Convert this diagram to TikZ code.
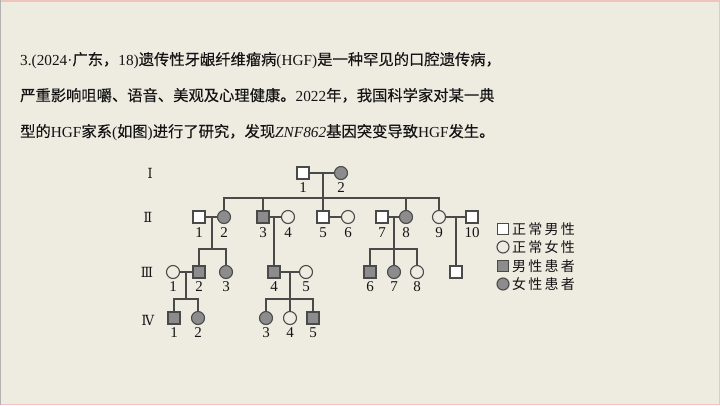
\documentclass[tikz,border=0pt]{standalone}
\usepackage{fontspec}
\setmainfont{Liberation Serif}
\newfontfamily\cjk[FakeBold=0.3]{Noto Sans CJK SC}
\newfontfamily\cjkl{Noto Sans CJK SC}
\newfontfamily\romfont{DejaVu Serif Condensed}
\definecolor{bgc}{HTML}{EEEBE1}
\definecolor{linec}{HTML}{4A4A4A}
\definecolor{affc}{HTML}{8C8C8C}
\definecolor{framec}{HTML}{F0C4BE}
\definecolor{txtc}{HTML}{141414}
\tikzset{
  male/.style={rectangle,draw=linec,line width=1.1pt,minimum size=12pt,inner sep=0pt,fill=white!0},
  female/.style={circle,draw=linec,line width=1.1pt,minimum size=13pt,inner sep=0pt},
  aff/.style={fill=affc},
  lbl/.style={font=\fontsize{15}{16}\selectfont,text=txtc,inner sep=0pt},
  gen/.style={font=\romfont\fontsize{14}{15}\selectfont,text=txtc,inner sep=0pt},
  ln/.style={draw=linec,line width=1.1pt},
  leg/.style={font=\cjkl\fontsize{14}{15}\selectfont,text=txtc,inner sep=0pt,anchor=west},
  titl/.style={font=\fontsize{15.3}{16}\selectfont,text=txtc,inner sep=0pt,anchor=base west}
}
\newcommand{\ls}[1]{#1\hspace{2.2pt}}
\begin{document}
\begin{tikzpicture}[x=1pt,y=-1pt]
\fill[bgc] (0,0) rectangle (720,405);
\useasboundingbox (0,0) rectangle (720,405);
\draw[framec,line width=1.5pt] (719.25,0.75) -- (0.75,0.75);
\draw[framec,line width=1.5pt] (719.25,0) -- (719.25,404.25) -- (0,404.25);
\draw[black!30,line width=0.8pt] (0.4,0) -- (0.4,405);

% title
\node[titl] (t1) at (20,65) {3.(2024·{\cjk 广东，}18){\cjk 遗传性牙龈纤维瘤病}(HGF){\cjk 是一种罕见的口腔遗传病，}};
\node[titl] (t2) at (20,101) {{\cjk 严重影响咀嚼、语音、美观及心理健康。}2022{\cjk 年，我国科学家对某一典}};
\node[titl] (t3) at (20,137) {{\cjk 型的}HGF{\cjk 家系}({\cjk 如图}){\cjk 进行了研究，发现}\textit{ZNF862}{\cjk 基因突变导致}HGF{\cjk 发生。}};

% generation labels
\node[gen] (g1) at (150,173) {Ⅰ};
\node[gen] (g2) at (148,217) {Ⅱ};
\node[gen] (g3) at (147,272) {Ⅲ};
\node[gen] (g4) at (148,320) {Ⅳ};

% generation I
\node[male] (I1) at (303,173) {};
\node[female,aff] (I2) at (341,173) {};
\node[lbl] at (303,188) {1};
\node[lbl] at (341,188) {2};

% generation II
\node[male] (II1) at (199,217) {};
\node[female,aff] (II2) at (224,217) {};
\node[male,aff] (II3) at (263,217) {};
\node[female] (II4) at (288,217) {};
\node[male] (II5) at (323,217) {};
\node[female] (II6) at (348,217) {};
\node[male] (II7) at (382,217) {};
\node[female,aff] (II8) at (406,217) {};
\node[female] (II9) at (439,217) {};
\node[male] (II10) at (472,217) {};
\foreach \n/\x in {1/199,2/224,3/263,4/288,5/323,6/348,7/382,8/406,9/439,10/472}
  \node[lbl] at (\x,233) {\n};

% generation III
\node[female] (III1) at (173,272) {};
\node[male,aff] (III2) at (199,272) {};
\node[female,aff] (III3) at (226,272) {};
\node[male,aff] (III4) at (274,272) {};
\node[female] (III5) at (306,272) {};
\node[male,aff] (III6) at (370,272) {};
\node[female,aff] (III7) at (394,272) {};
\node[female] (III8) at (417,272) {};
\node[male] (III9) at (456,272) {};
\foreach \n/\x in {1/173,2/199,3/226,4/274,5/306,6/370,7/394,8/417}
  \node[lbl] at (\x,287) {\n};

% generation IV
\node[male,aff] (IV1) at (174,318) {};
\node[female,aff] (IV2) at (198,318) {};
\node[female,aff] (IV3) at (266,318) {};
\node[female] (IV4) at (290,318) {};
\node[male,aff] (IV5) at (313,318) {};
\foreach \n/\x in {1/174,2/198,3/266,4/290,5/313}
  \node[lbl] at (\x,333) {\n};

% junction coordinates
\coordinate (mI) at (323,173);
\coordinate (sI) at (323,198);
\coordinate (m12) at (212,217);
\coordinate (s12) at (212,249);
\coordinate (m34) at (274,217);
\coordinate (m78) at (394,217);
\coordinate (s78) at (394,249);
\coordinate (m910) at (456,217);
\coordinate (mIII12) at (186,272);
\coordinate (sIII12) at (186,299);
\coordinate (mIII45) at (290,272);
\coordinate (sIII45) at (290,299);

% generation I connectors
\draw[ln] (I1.east) -- (I2.west);
\draw[ln] (mI) -- (II5.north);
\draw[ln] (II2.north) |- (sI) -| (II9.north);
\draw[ln] (II3.north) -- (II3.north |- sI);
\draw[ln] (II8.north) -- (II8.north |- sI);

% generation II couples
\draw[ln] (II1.east) -- (II2.west);
\draw[ln] (II3.east) -- (II4.west);
\draw[ln] (II5.east) -- (II6.west);
\draw[ln] (II7.east) -- (II8.west);
\draw[ln] (II9.east) -- (II10.west);

% generation II descents
\draw[ln] (m12) -- (s12);
\draw[ln] (III2.north) |- (s12) -| (III3.north);
\draw[ln] (m34) -- (III4.north);
\draw[ln] (m78) -- (III7.north);
\draw[ln] (III6.north) |- (s78) -| (III8.north);
\draw[ln] (m910) -- (III9.north);

% generation III couples and descents
\draw[ln] (III1.east) -- (III2.west);
\draw[ln] (III4.east) -- (III5.west);
\draw[ln] (mIII12) -- (sIII12);
\draw[ln] (IV1.north) |- (sIII12) -| (IV2.north);
\draw[ln] (mIII45) -- (IV4.north);
\draw[ln] (IV3.north) |- (sIII45) -| (IV5.north);

% legend
\node[male,minimum size=11pt] (L1) at (503,229) {};
\node[female,minimum size=12pt] (L2) at (503,247) {};
\node[male,aff,minimum size=11pt] (L3) at (503,266) {};
\node[female,aff,minimum size=12pt] (L4) at (503,284) {};
\node[leg] (T1) at (512,229) {\ls{正}\ls{常}\ls{男}性};
\node[leg] (T2) at (512,247) {\ls{正}\ls{常}\ls{女}性};
\node[leg] (T3) at (512,266) {\ls{男}\ls{性}\ls{患}者};
\node[leg] (T4) at (512,284) {\ls{女}\ls{性}\ls{患}者};
\end{tikzpicture}
\end{document}
